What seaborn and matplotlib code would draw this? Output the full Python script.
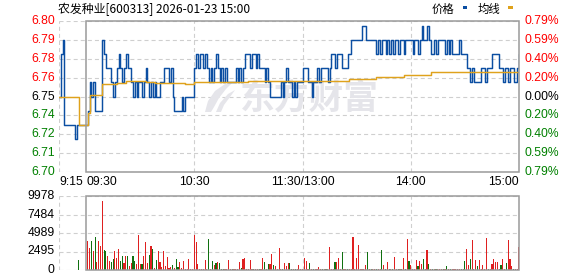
import numpy as np
import pandas as pd
import matplotlib
matplotlib.use("Agg")
import matplotlib.pyplot as plt
import seaborn as sns
from matplotlib.patches import Rectangle, Polygon

sns.set_theme(style="white")
plt.rcParams["font.family"] = ["Liberation Sans", "Noto Sans CJK SC", "DejaVu Sans"]
plt.rcParams["lines.scale_dashes"] = False

# ---------------- data ----------------
title_text = "农发种业[600313] 2026-01-23 15:00"
watermark_text = "东方财富"
prev_close = 6.75

# pre-market 9:15 - 9:29 (minutes -15 .. -1)
pre_price = [6.75, 6.78, 6.79, 6.73, 6.73, 6.73, 6.73, 6.73, 6.73, 6.72,
             6.73, 6.73, 6.73, 6.73, 6.73]

# trading minutes 0 (09:30) .. 240 (15:00)
price = [
    6.73, 6.74, 6.76, 6.75, 6.76, 6.74, 6.74, 6.74, 6.74, 6.79,
    6.78, 6.77, 6.77, 6.77, 6.76, 6.75, 6.76, 6.77, 6.78, 6.77,
    6.76, 6.77, 6.78, 6.77, 6.77, 6.76, 6.75, 6.76, 6.75, 6.76,
    6.76, 6.75, 6.76, 6.77, 6.76, 6.75, 6.76, 6.75, 6.76, 6.75,
    6.75, 6.76, 6.76, 6.77, 6.77, 6.77, 6.76, 6.77, 6.75, 6.74,
    6.74, 6.74, 6.74, 6.75, 6.74, 6.75, 6.75, 6.75, 6.75, 6.75,
    6.77, 6.78, 6.77, 6.78, 6.78, 6.77, 6.78, 6.77, 6.76, 6.77,
    6.76, 6.77, 6.78, 6.77, 6.76, 6.77, 6.76, 6.77, 6.76, 6.76,
    6.76, 6.76, 6.76, 6.77, 6.76, 6.77, 6.76, 6.77, 6.78, 6.78,
    6.78, 6.77, 6.78, 6.78, 6.77, 6.78, 6.77, 6.77, 6.77, 6.76,
    6.77, 6.76, 6.75, 6.75, 6.75, 6.75, 6.75, 6.75, 6.76, 6.75,
    6.76, 6.77, 6.76, 6.76, 6.75, 6.76, 6.75, 6.76, 6.76, 6.76,
    6.77, 6.77, 6.77, 6.76, 6.76, 6.75, 6.76, 6.76, 6.77, 6.76,
    6.77, 6.77, 6.77, 6.77, 6.76, 6.77, 6.78, 6.78, 6.77, 6.78,
    6.78, 6.78, 6.77, 6.77, 6.77, 6.78, 6.78, 6.79, 6.79, 6.79,
    6.79, 6.79, 6.79, 6.80, 6.80, 6.79, 6.79, 6.79, 6.79, 6.79,
    6.79, 6.78, 6.79, 6.78, 6.79, 6.79, 6.78, 6.79, 6.78, 6.79,
    6.78, 6.79, 6.79, 6.78, 6.79, 6.79, 6.78, 6.79, 6.79, 6.79,
    6.79, 6.78, 6.79, 6.79, 6.78, 6.79, 6.80, 6.79, 6.79, 6.80,
    6.79, 6.78, 6.78, 6.79, 6.78, 6.79, 6.79, 6.79, 6.79, 6.78,
    6.79, 6.78, 6.79, 6.78, 6.78, 6.78, 6.78, 6.79, 6.78, 6.78,
    6.78, 6.77, 6.77, 6.76, 6.77, 6.76, 6.76, 6.76, 6.76, 6.77,
    6.77, 6.76, 6.77, 6.77, 6.77, 6.78, 6.78, 6.78, 6.78, 6.77,
    6.77, 6.76, 6.77, 6.77, 6.76, 6.77, 6.77, 6.76, 6.76, 6.77,
    6.78,
]

# average price line, as step changes (minute, value)
avg_minute = [-15, -4, 1, 2, 9, 17, 22, 33, 38, 55, 60, 90, 108, 146, 161, 176, 191, 240]
avg_value = [6.750, 6.730, 6.738, 6.751, 6.7585, 6.7595, 6.7612, 6.7605, 6.7595,
             6.7585, 6.7600, 6.7608, 6.7611, 6.7626, 6.7638, 6.7650, 6.7673, 6.7673]

# volume per trading minute (0..240) and direction (u = up/red, d = down/green)
vol = [
    0, 3860, 2950, 3950, 2590, 4490, 1090, 3950, 3180, 9300,
    2720, 2590, 1900, 1270, 1135, 1500, 2590, 1680, 2860, 1270,
    1950, 900, 1900, 1900, 545, 1000, 1900, 1270, 860, 4770,
    820, 860, 1900, 3810, 900, 2040, 3220, 2860, 270, 1360,
    2500, 1135, 450, 2590, 545, 1770, 230, 410, 635, 320,
    1500, 360, 1135, 230, 1225, 140, 140, 1500, 140, 140,
    4770, 3720, 820, 140, 140, 140, 1360, 140, 4220, 140,
    1225, 680, 900, 1090, 1000, 140, 140, 140, 140, 1360,
    140, 140, 140, 140, 140, 1135, 270, 1450, 1590, 140,
    140, 1360, 140, 140, 140, 140, 140, 140, 1630, 1135,
    140, 820, 820, 2180, 680, 545, 140, 2950, 140, 140,
    1000, 590, 1000, 900, 140, 140, 140, 140, 680, 140,
    140, 1630, 1225, 140, 950, 140, 140, 140, 140, 410,
    140, 140, 140, 140, 140, 3130, 140, 140, 1090, 1090,
    1630, 140, 2450, 140, 140, 140, 140, 140, 4490, 140,
    1630, 3400, 140, 140, 140, 680, 2450, 140, 140, 140,
    140, 140, 140, 140, 2720, 680, 140, 1090, 140, 140,
    140, 1770, 140, 140, 140, 140, 1630, 140, 4180, 1225,
    635, 140, 140, 1360, 545, 1225, 820, 1500, 140, 2720,
    820, 140, 140, 140, 140, 140, 140, 140, 140, 140,
    545, 140, 140, 140, 140, 140, 140, 140, 140, 140,
    1225, 2860, 680, 1500, 4090, 140, 1360, 545, 1360, 140,
    680, 140, 4360, 140, 140, 820, 1500, 1090, 1090, 140,
    680, 1500, 140, 950, 4090, 1500, 545, 140, 140, 140,
    3130,
]
vol_dir = ("uuududuuuu" "dduudduuud" "duuduudduu" "uduuududud" "uuuuuuuudu"
           "dduuuuuuuu" "uuuuuuuudu" "dududdduuu" "uduuuuduuu" "uuuduuduud"
           "uduuduuuud" "uuudduduuu" "uuuududuuu" "ududuuuudu" "uuduuduuuu"
           "uuuuuududu" "uduudududu" "duudududud" "uuuuduuduu" "dududuuudu"
           "duduuuuudu" "duudududuu" "uuuduuuuud" "duuduuuduu" "u")
auction_minute = -4
auction_vol = 1360
auction_dir = "d"

time_ticks = [-15, 0, 60, 120, 180, 240]
time_labels = ["9:15", "09:30", "10:30", "11:30/13:00", "14:00", "15:00"]
time_align = ["left", "left", "center", "center", "center", "right"]
price_labels = ["6.80", "6.79", "6.78", "6.76", "6.75", "6.74", "6.72", "6.71", "6.70"]
pct_labels = ["0.79%", "0.59%", "0.40%", "0.20%", "0.00%", "0.20%", "0.40%", "0.59%", "0.79%"]
vol_labels = ["9978", "7484", "4989", "2495", "0"]
vol_top = 9978

# ---------------- styling ----------------
BLUE = "#0b4ea2"
GOLD = "#dfa21c"
RED = "#ff0000"
GREEN = "#008000"
GRID = "#cfcfcf"
BORDER = "#9a9a9a"
WM = "#e5e5ea"
DASH = (0, (2.9, 2.2))

W, H = 578, 276
fig = plt.figure(figsize=(W / 100, H / 100), dpi=100)
fig.patch.set_facecolor("white")


def frac(x0, y0, x1, y1):
    return [x0 / W, 1 - y1 / H, (x1 - x0) / W, (y1 - y0) / H]


def fpt(x, y):
    return (x / W, 1 - y / H)


ax = fig.add_axes(frac(59, 21, 519, 172))
axv = fig.add_axes(frac(59, 196, 519, 270))

# ---- price panel ----
step = 0.04 / 3
levels = [prev_close + (4 - i) * step for i in range(9)]
ylo, yhi = levels[-1], levels[0]

minutes_all = list(range(-15, 0)) + list(range(0, 241))
price_all = pre_price + price
df_price = pd.DataFrame({"minute": minutes_all, "price": price_all})
df_avg = pd.DataFrame({"minute": avg_minute, "avg": avg_value})

for y in levels:
    ax.axhline(y, color=GRID, lw=0.8, ls=DASH, zorder=0)
for t in [-15, 60, 120, 180]:
    ax.axvline(t, color=GRID, lw=0.8, ls=DASH, zorder=0)

# watermark (logo swoosh + text)
wx, wy = fpt(309, 98)
ax.text(wx, wy, watermark_text, transform=fig.transFigure, fontsize=25, fontweight="bold",
        color=WM, ha="center", va="center", family=["Noto Sans CJK SC"], zorder=0.5)
swoosh1 = [fpt(*p) for p in [(205, 112), (208, 101), (215, 91), (225, 84), (233, 82),
                             (226, 89), (219, 98), (214, 107), (211, 112)]]
swoosh2 = [fpt(*p) for p in [(216, 112), (220, 103), (228, 94), (235, 90),
                             (230, 97), (224, 105), (221, 112)]]
ax.add_patch(Polygon(swoosh1, closed=True, transform=fig.transFigure, color=WM, lw=0, zorder=0.5))
ax.add_patch(Polygon(swoosh2, closed=True, transform=fig.transFigure, color=WM, lw=0, zorder=0.5))

sns.lineplot(data=df_price, x="minute", y="price", color=BLUE, lw=1.05,
             drawstyle="steps-post", ax=ax, zorder=3)
sns.lineplot(data=df_avg, x="minute", y="avg", color=GOLD, lw=1.05,
             drawstyle="steps-post", ax=ax, zorder=4)

ax.add_patch(Rectangle((0, ylo), 240, yhi - ylo, fill=False, edgecolor=BORDER,
                       lw=1.1, zorder=5, clip_on=False))
ax.set_xlim(-15, 240)
ax.set_ylim(ylo, yhi)
ax.set_xticks([])
ax.set_yticks([])
ax.set_xlabel("")
ax.set_ylabel("")
for s in ax.spines.values():
    s.set_visible(False)

ytr = ax.get_yaxis_transform()
for i, (y, pl, cl) in enumerate(zip(levels, price_labels, pct_labels)):
    col = RED if i < 4 else ("#000000" if i == 4 else GREEN)
    ax.text(-0.009, y, pl, transform=ytr, ha="right", va="center", fontsize=8.7, color=col)
    ax.text(1.011, y, cl, transform=ytr, ha="left", va="center", fontsize=8.7, color=col)

xtr = ax.get_xaxis_transform()
for t, lab, al in zip(time_ticks, time_labels, time_align):
    ax.text(t, -0.066, lab, transform=xtr, ha=al, va="center", fontsize=8.7, color="#000000")

# title and legend
fig.text(58 / W, 1 - 9.5 / H, title_text, ha="left", va="center", fontsize=8.6,
         family=["Noto Sans CJK SC", "DejaVu Sans"], color="#000000")
fig.text(442.5 / W, 1 - 9.5 / H, "价格", ha="center", va="center", fontsize=8.2,
         family=["Noto Sans CJK SC"], color="#000000")
fig.text(488.5 / W, 1 - 9.5 / H, "均线", ha="center", va="center", fontsize=8.2,
         family=["Noto Sans CJK SC"], color="#000000")
fig.add_artist(Rectangle((462.5 / W, 1 - 9 / H), 4 / W, 2.5 / H, transform=fig.transFigure,
                         color=BLUE, lw=0))
fig.add_artist(Rectangle((507.5 / W, 1 - 9 / H), 5 / W, 2.5 / H, transform=fig.transFigure,
                         color=GOLD, lw=0))

# ---- volume panel ----
vol_levels = [vol_top * (4 - i) / 4 for i in range(5)]
df_vol = pd.DataFrame({
    "minute": [auction_minute] + list(range(0, 241)),
    "vol": [auction_vol] + vol,
    "dir": [auction_dir] + list(vol_dir),
})

for y in vol_levels:
    axv.axhline(y, color=GRID, lw=0.8, ls=DASH, zorder=0)
for t in [-15, 60, 120, 180]:
    axv.axvline(t, color=GRID, lw=0.8, ls=DASH, zorder=0)

sns.barplot(data=df_vol, x="minute", y="vol", hue="dir", palette={"u": RED, "d": GREEN},
            native_scale=True, width=0.62, dodge=False, errorbar=None, legend=False,
            linewidth=0, antialiased=False, ax=axv, zorder=3)

axv.add_patch(Rectangle((0, 0), 240, vol_top, fill=False, edgecolor=BORDER,
                        lw=1.1, zorder=5, clip_on=False))
axv.set_xlim(-15, 240)
axv.set_ylim(0, vol_top)
axv.set_xticks([])
axv.set_yticks([])
axv.set_xlabel("")
axv.set_ylabel("")
for s in axv.spines.values():
    s.set_visible(False)

vtr = axv.get_yaxis_transform()
for y, lab in zip(vol_levels, vol_labels):
    axv.text(-0.009, y, lab, transform=vtr, ha="right", va="center", fontsize=8.7, color="#000000")

fig.savefig("out.png", dpi=100, facecolor="white")
